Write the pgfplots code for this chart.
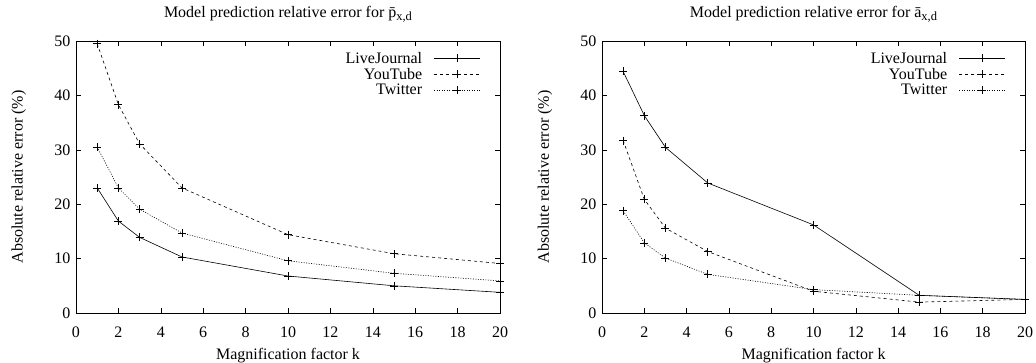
\documentclass[border=0pt]{standalone}
\usepackage{fontspec}
\setmainfont{Liberation Serif}
\usepackage{pgfplots}
\pgfplotsset{compat=1.18}

\pgfplotsset{myax/.style={
  scale only axis, height=272pt,
  xmin=0,xmax=20,ymin=0,ymax=50,
  xtick={0,2,...,20}, ytick={0,10,...,50},
  major tick length=5pt,
  tick style={black, line width=0.6pt},
  axis line style={line width=0.8pt},
  /pgf/number format/assume math mode=true,
  tick label style={font=\fontsize{16}{16}\selectfont},
  xticklabel style={yshift=-10pt},
  yticklabel style={xshift=-2pt},
  label style={font=\fontsize{16}{16}\selectfont},
  title style={font=\fontsize{16}{16}\selectfont, at={(axis description cs:0.5,1.075)}, anchor=center},
  xlabel style={at={(axis description cs:0.5,-0.155)}, anchor=center},
  ylabel style={at={(axis description cs:-0.135,0.5)}, anchor=center},
  xlabel={Magnification factor k},
  ylabel={Absolute relative error (\%)},
  legend plot pos=right,
  legend cell align=right,
  legend style={draw=none, fill=none, at={(axis description cs:0.955,0.968)}, anchor=north east,
    font=\fontsize{16}{16}\selectfont, row sep=-0.5pt, column sep=10pt, inner sep=0pt},
  legend image code/.code={\draw[mark repeat=2,mark phase=2,##1] plot coordinates {(0pt,0pt)(23pt,0pt)(46pt,0pt)};},
  every axis plot/.append style={black, line width=0.6pt, mark=+, mark size=4pt, mark options={solid}},
}}

\begin{document}
\begin{tikzpicture}
\path[use as bounding box] (0,0) rectangle (1036pt,362pt);
\begin{axis}[myax, width=424pt, at={(76pt,49pt)}, anchor=south west,
  title={Model prediction relative error for \={p}\raisebox{-0.45ex}{\fontsize{12.5}{12.5}\selectfont x,d}}]
\addplot[solid] coordinates {(1,23.0) (2,16.9) (3,13.9) (5,10.3) (10,6.8) (15,5.0) (20,3.8)};
\addlegendentry{LiveJournal}
\addplot[dash pattern=on 3pt off 3pt] coordinates {(1,49.5) (2,38.3) (3,31.1) (5,23.0) (10,14.4) (15,10.9) (20,9.1)};
\addlegendentry{YouTube}
\addplot[dash pattern=on 1pt off 1.5pt] coordinates {(1,30.5) (2,23.0) (3,19.1) (5,14.7) (10,9.6) (15,7.3) (20,5.9)};
\addlegendentry{Twitter}
\end{axis}
\begin{axis}[myax, width=423pt, at={(602pt,49pt)}, anchor=south west,
  title={Model prediction relative error for \={a}\raisebox{-0.45ex}{\fontsize{12.5}{12.5}\selectfont x,d}}]
\addplot[solid] coordinates {(1,44.4) (2,36.3) (3,30.45) (5,23.9) (10,16.2) (15,3.25) (20,2.5)};
\addlegendentry{LiveJournal}
\addplot[dash pattern=on 3pt off 3pt] coordinates {(1,31.7) (2,20.9) (3,15.6) (5,11.3) (10,4.0) (15,2.0) (20,2.5)};
\addlegendentry{YouTube}
\addplot[dash pattern=on 1pt off 1.5pt] coordinates {(1,18.8) (2,12.9) (3,10.1) (5,7.1) (10,4.3) (15,3.25) (20,2.5)};
\addlegendentry{Twitter}
\end{axis}
\end{tikzpicture}
\end{document}
